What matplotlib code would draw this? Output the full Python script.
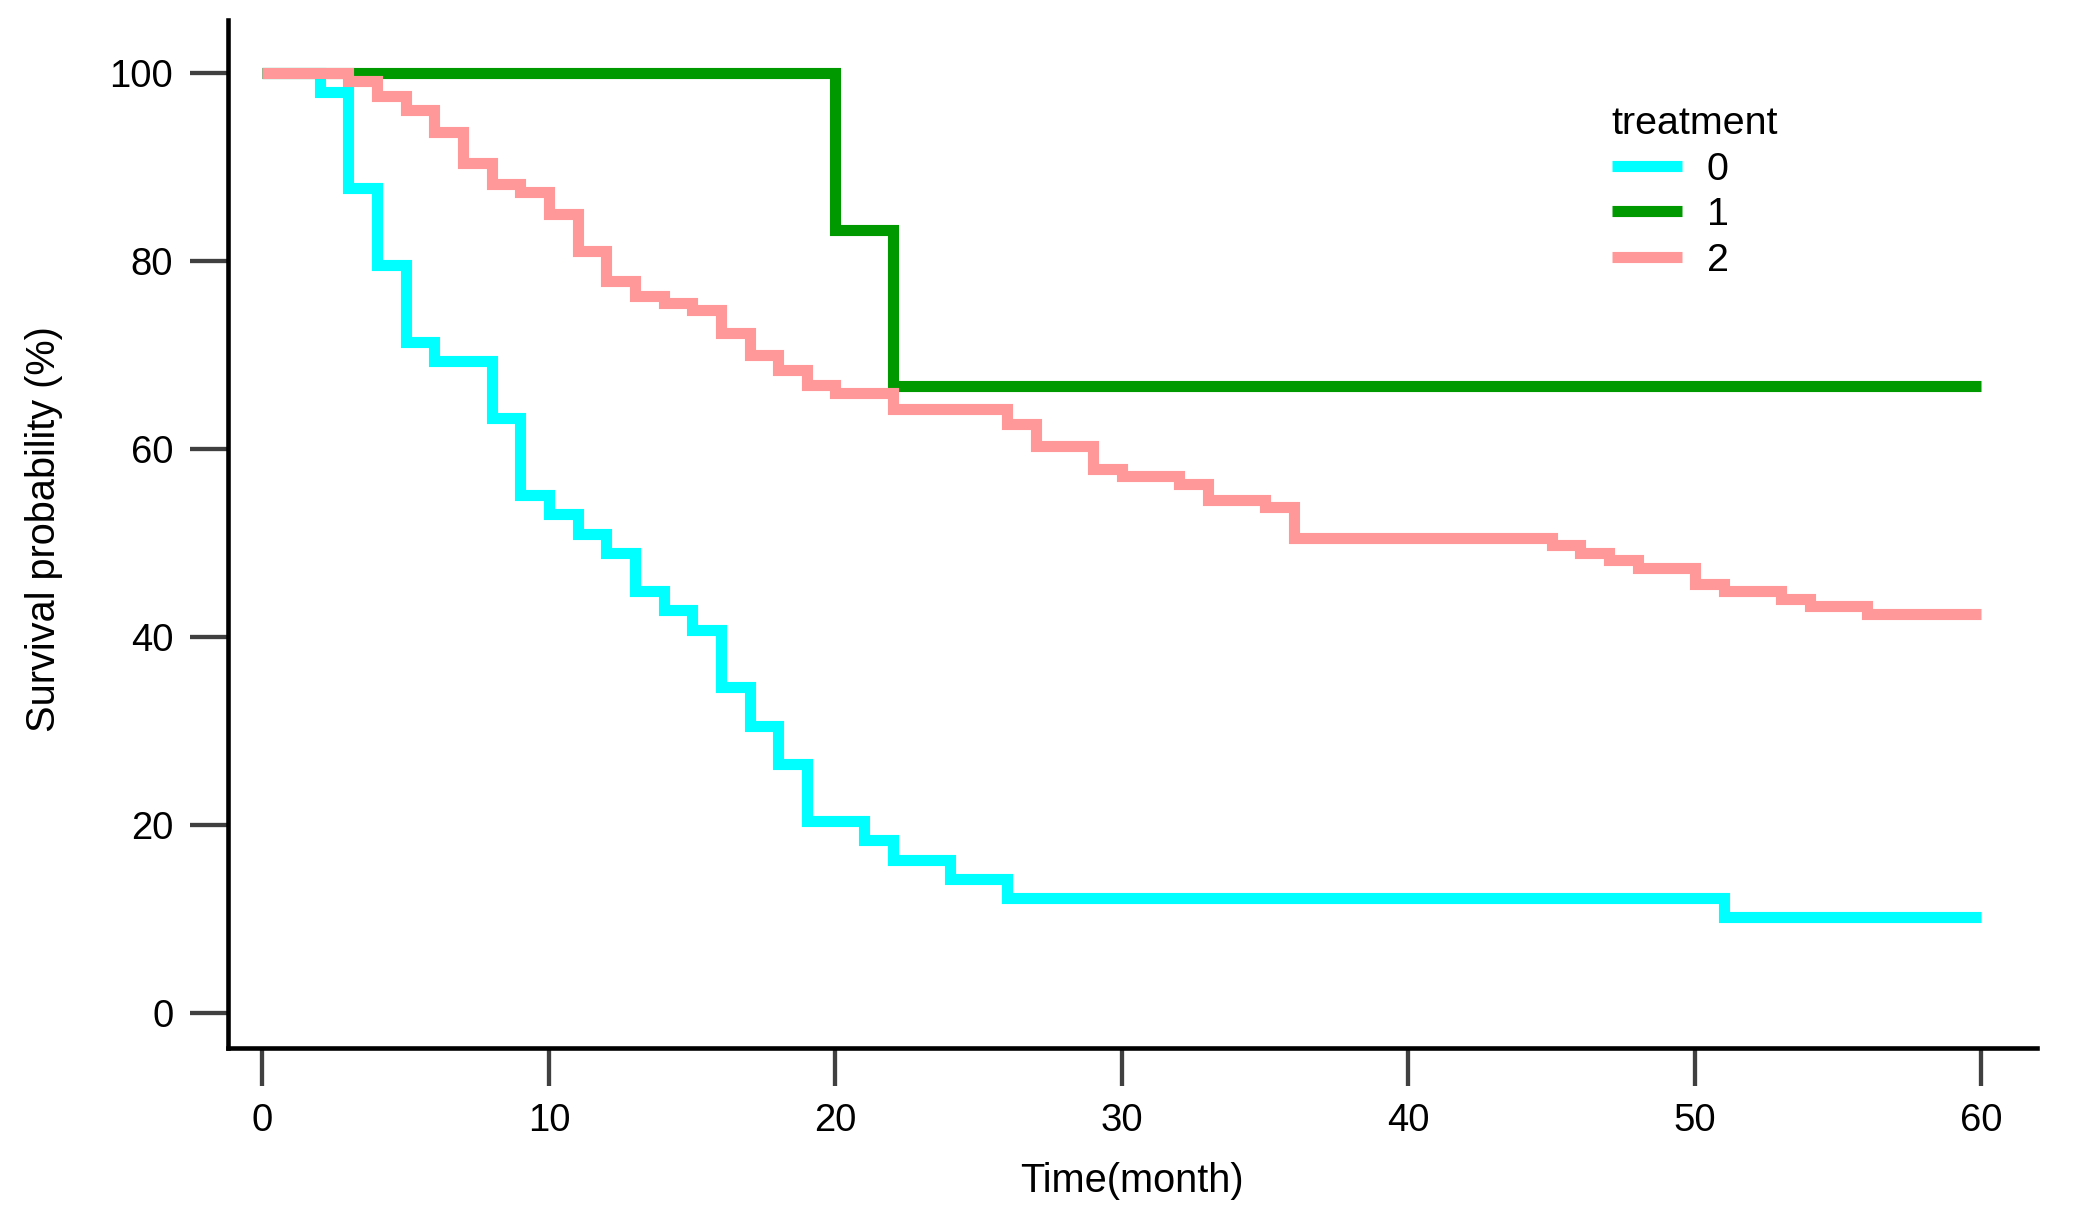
import matplotlib
matplotlib.use("Agg")
import matplotlib.pyplot as plt

# Kaplan-Meier curves, survival in %
time0 = [0, 2, 3, 4, 5, 6, 8, 9, 10, 11, 12, 13, 14, 15, 16, 17, 18, 19, 21, 22, 24, 26, 51, 60]
surv0 = [100, 98.0, 87.8, 79.6, 71.4, 69.4, 63.3, 55.1, 53.1, 51.0, 49.0, 44.9, 42.9, 40.8,
         34.7, 30.6, 26.5, 20.4, 18.4, 16.3, 14.3, 12.2, 10.2, 10.2]

time1 = [0, 20, 22, 60]
surv1 = [100, 83.3, 66.7, 66.7]

time2 = [0, 3, 4, 5, 6, 7, 8, 9, 10, 11, 12, 13, 14, 15, 16, 17, 18, 19, 20, 22,
         26, 27, 29, 30, 32, 33, 35, 36, 45, 46, 47, 48, 50, 51, 53, 54, 56, 60]
surv2 = [100, 99.2, 97.6, 96.1, 93.7, 90.5, 88.2, 87.4, 85.0, 81.1, 77.9, 76.3, 75.6, 74.8,
         72.4, 70.0, 68.4, 66.8, 66.0, 64.3, 62.7, 60.3, 57.9, 57.1, 56.3, 54.6, 53.8, 50.6,
         49.8, 49.0, 48.2, 47.4, 45.7, 44.9, 44.1, 43.3, 42.5, 42.5]

groups = ["0", "1", "2"]
colors = ["#00FFFF", "#009900", "#FF9999"]
xticks = [0, 10, 20, 30, 40, 50, 60]
yticks = [0, 20, 40, 60, 80, 100]

plt.rcParams['font.family'] = ['Liberation Sans', 'DejaVu Sans']

fig = plt.figure(figsize=(20.99, 12.13), dpi=100)
ax = fig.add_axes([0.1084, 0.1358, 0.8621, 0.8480])

curves = [(time0, surv0), (time1, surv1), (time2, surv2)]
for (t, s), g, c in zip(curves, groups, colors):
    ax.step(t, s, where='post', color=c, lw=8.0, label=g,
            solid_joinstyle='miter', solid_capstyle='butt')

ax.set_xlim(-1.22, 61.94)
ax.set_ylim(-3.74, 105.7)
ax.set_xticks(xticks)
ax.set_yticks(yticks)

for side in ['top', 'right']:
    ax.spines[side].set_visible(False)
for side in ['left', 'bottom']:
    ax.spines[side].set_linewidth(3.3)
    ax.spines[side].set_color('black')

ax.tick_params(axis='both', length=27.5, width=3.1, color='#404040',
               labelsize=27.5, labelcolor='black')
ax.tick_params(axis='x', pad=12)
ax.tick_params(axis='y', pad=11.5)

ax.set_xlabel("Time(month)", fontsize=28.6)
ax.set_ylabel("Survival probability (%)", fontsize=28.6)
ax.xaxis.set_label_coords(0.5, -0.1395)
ax.xaxis.label.set_va('baseline')
ax.yaxis.set_label_coords(-0.0953, 0.505)
ax.yaxis.label.set_va('baseline')

leg = ax.legend(title="treatment", loc='upper left', bbox_to_anchor=(0.7678, 0.9125),
                bbox_transform=fig.transFigure, frameon=False, fontsize=28.4,
                title_fontsize=28.4, handlelength=1.79, handletextpad=0.62,
                labelspacing=0.24, borderpad=0, borderaxespad=0, alignment='left')
for line in leg.get_lines():
    line.set_linewidth(8.0)

fig.savefig("out.png", dpi=100)
